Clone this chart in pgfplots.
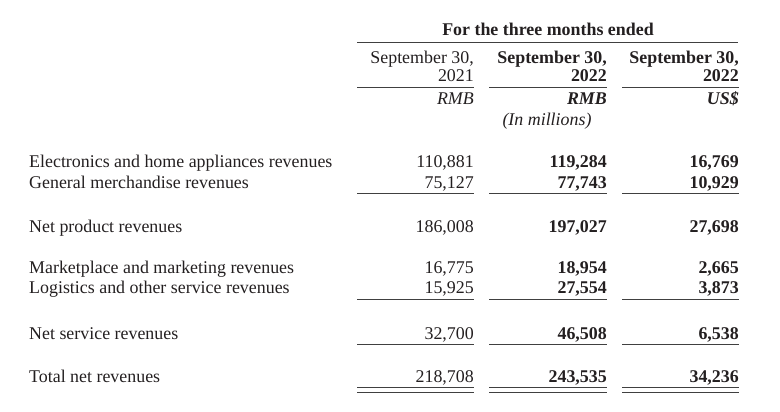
\documentclass[border=0pt]{standalone}
\usepackage{pgfplots}
\pgfplotsset{compat=1.18}
\usepackage{pgfplotstable}
\usepackage{fontspec}
\setmainfont{Liberation Serif}
\definecolor{ink}{HTML}{231F20}
\definecolor{rule}{HTML}{404040}

% x = right edge of column, y = baseline (pixels from top)
\pgfplotstableread{
x y lab
474 167 110,881
474 188 75,127
474 232 186,008
474 273.5 16,775
474 293.5 15,925
474 339.5 32,700
474 382.5 218,708
}\colA
\pgfplotstableread{
x y lab
607 167 119,284
607 188 77,743
607 232 197,027
607 273.5 18,954
607 293.5 27,554
607 339.5 46,508
607 382.5 243,535
}\colB
\pgfplotstableread{
x y lab
739 167 16,769
739 188 10,929
739 232 27,698
739 273.5 2,665
739 293.5 3,873
739 339.5 6,538
739 382.5 34,236
}\colC

\newcommand{\fs}{\fontsize{17.9}{20}\selectfont}
\tikzset{tx/.style={font=\fs, text=ink, inner sep=0pt},
         ln/.style={draw=rule, line width=0.8pt}}

\begin{document}
\begin{tikzpicture}
\begin{axis}[
  width=780pt, height=412pt, scale only axis,
  xmin=0, xmax=780, ymin=0, ymax=412, y dir=reverse,
  hide axis, clip=false,
]
\path (axis cs:0,0) -- (axis cs:780,412);
% numbers
\addplot[draw=none, mark=none, nodes near coords, point meta=explicit symbolic,
  nodes near coords style={anchor=base east, font=\fs, text=ink, inner sep=0pt}]
  table[x=x, y=y, meta=lab] {\colA};
\addplot[draw=none, mark=none, nodes near coords, point meta=explicit symbolic,
  nodes near coords style={anchor=base east, font=\fs\bfseries, text=ink, inner sep=0pt}]
  table[x=x, y=y, meta=lab] {\colB};
\addplot[draw=none, mark=none, nodes near coords, point meta=explicit symbolic,
  nodes near coords style={anchor=base east, font=\fs\bfseries, text=ink, inner sep=0pt}]
  table[x=x, y=y, meta=lab] {\colC};

% row labels
\node[tx, anchor=base west] at (axis cs:29,167) {Electronics and home appliances revenues};
\node[tx, anchor=base west] at (axis cs:29,188) {General merchandise revenues};
\node[tx, anchor=base west] at (axis cs:29,232) {Net product revenues};
\node[tx, anchor=base west] at (axis cs:29,273.5) {Marketplace and marketing revenues};
\node[tx, anchor=base west] at (axis cs:29,293.5) {Logistics and other service revenues};
\node[tx, anchor=base west] at (axis cs:29,339.5) {Net service revenues};
\node[tx, anchor=base west] at (axis cs:29,382.5) {Total net revenues};

% header
\node[tx, anchor=base, font=\fs\bfseries] at (axis cs:548,36) {For the three months ended};
\draw[ln] (axis cs:357,42.3) -- (axis cs:738,42.3);
\node[tx, anchor=base east] at (axis cs:474,63.3) {September 30,};
\node[tx, anchor=base east] at (axis cs:474,81.7) {2021};
\node[tx, anchor=base east, font=\fs\bfseries] at (axis cs:607,63.3) {September 30,};
\node[tx, anchor=base east, font=\fs\bfseries] at (axis cs:607,81.7) {2022};
\node[tx, anchor=base east, font=\fs\bfseries] at (axis cs:739,63.3) {September 30,};
\node[tx, anchor=base east, font=\fs\bfseries] at (axis cs:739,81.7) {2022};
\node[tx, anchor=base east, font=\fs\itshape] at (axis cs:474,104.3) {RMB};
\node[tx, anchor=base east, font=\fs\bfseries\itshape] at (axis cs:607,104.3) {RMB};
\node[tx, anchor=base east, font=\fs\bfseries\itshape] at (axis cs:739,104.3) {US\$};
\node[tx, anchor=base, font=\fs\itshape] at (axis cs:547,125) {(In millions)};

% rules
\draw[ln] (axis cs:357,87.3) -- (axis cs:474,87.3);
\draw[ln] (axis cs:489,87.3) -- (axis cs:607,87.3);
\draw[ln] (axis cs:622,87.3) -- (axis cs:739,87.3);
\draw[ln] (axis cs:357,193.5) -- (axis cs:474,193.5);
\draw[ln] (axis cs:489,193.5) -- (axis cs:607,193.5);
\draw[ln] (axis cs:622,193.5) -- (axis cs:739,193.5);
\draw[ln] (axis cs:357,299.5) -- (axis cs:474,299.5);
\draw[ln] (axis cs:489,299.5) -- (axis cs:607,299.5);
\draw[ln] (axis cs:622,299.5) -- (axis cs:739,299.5);
\draw[ln] (axis cs:357,344) -- (axis cs:474,344);
\draw[ln] (axis cs:489,344) -- (axis cs:607,344);
\draw[ln] (axis cs:622,344) -- (axis cs:739,344);
\draw[ln] (axis cs:357,387.7) -- (axis cs:474,387.7);
\draw[ln] (axis cs:489,387.7) -- (axis cs:607,387.7);
\draw[ln] (axis cs:622,387.7) -- (axis cs:739,387.7);
\draw[ln] (axis cs:357,392.3) -- (axis cs:474,392.3);
\draw[ln] (axis cs:489,392.3) -- (axis cs:607,392.3);
\draw[ln] (axis cs:622,392.3) -- (axis cs:739,392.3);
\end{axis}
\end{tikzpicture}
\end{document}
